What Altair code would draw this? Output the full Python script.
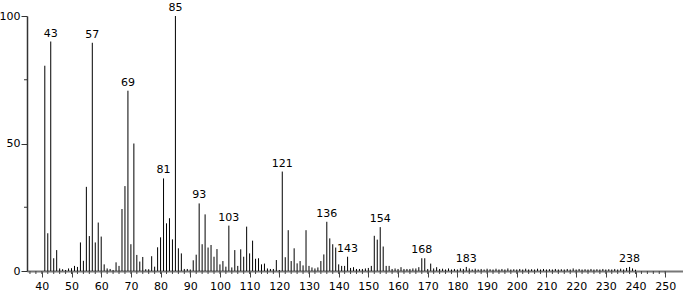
import altair as alt
import pandas as pd

# m/z values 41..240
masses = list(range(41, 241))
intensities = [
    80.5, 14.8, 90.0, 5.0, 8.2, 1.0, 0.7, 0.4, 1.0, 1.1,          # 41-50
    2.0, 1.6, 11.2, 4.0, 33.0, 13.7, 89.5, 11.2, 19.0, 13.5,      # 51-60
    2.6, 1.0, 0.8, 0.4, 3.4, 2.0, 24.3, 33.3, 70.7, 10.5,         # 61-70
    50.0, 6.3, 3.7, 5.5, 0.7, 0.7, 5.8, 1.7, 9.3, 13.2,           # 71-80
    36.3, 18.7, 20.7, 12.4, 100.0, 8.9, 6.9, 0.8, 0.8, 0.6,       # 81-90
    4.2, 6.4, 26.5, 10.5, 22.2, 9.2, 10.2, 5.6, 8.6, 2.6,         # 91-100
    3.9, 1.7, 17.8, 1.4, 8.2, 2.0, 8.5, 5.6, 17.4, 6.9,           # 101-110
    11.9, 4.8, 5.0, 2.6, 2.9, 1.0, 0.8, 0.8, 4.3, 0.4,            # 111-120
    39.0, 5.4, 16.0, 3.9, 8.9, 3.0, 3.9, 2.2, 16.0, 2.0,          # 121-130
    1.4, 1.0, 1.4, 3.9, 6.5, 19.3, 12.8, 10.5, 9.2, 2.6,          # 131-140
    2.0, 2.0, 5.6, 1.2, 1.5, 0.8, 0.8, 0.8, 1.0, 1.2,             # 141-150
    2.0, 13.8, 12.3, 17.2, 9.6, 2.0, 2.0, 0.8, 1.0, 0.8,          # 151-160
    1.5, 0.8, 0.8, 0.8, 1.0, 1.0, 1.5, 5.0, 5.0, 0.8,             # 161-170
    2.9, 1.0, 1.5, 0.8, 0.9, 0.6, 1.0, 0.6, 0.8, 0.6,             # 171-180
    1.0, 0.8, 1.6, 1.0, 0.6, 0.9, 0.6, 0.8, 0.6, 0.9,             # 181-190
    0.7, 0.6, 0.9, 0.6, 0.8, 0.6, 1.0, 0.6, 0.7, 0.6,             # 191-200
    0.8, 0.6, 0.9, 0.6, 0.7, 0.6, 0.9, 0.6, 0.8, 0.6,             # 201-210
    0.7, 0.6, 0.8, 0.6, 0.7, 0.6, 0.8, 0.6, 1.0, 0.6,             # 211-220
    0.8, 0.6, 0.7, 0.6, 0.8, 0.6, 0.7, 0.6, 0.8, 0.6,             # 221-230
    0.7, 0.6, 0.8, 0.6, 0.9, 0.6, 1.2, 1.6, 1.0, 0.5,             # 231-240
]
label_masses = [43, 57, 69, 81, 85, 93, 103, 121, 136, 143, 154, 168, 183, 238]
x_major = list(range(40, 251, 10))
x_minor = list(range(36, 251, 2))
y_major = [0, 50, 100]
y_minor = [25, 75]

FONT = "DejaVu Sans"

df = pd.DataFrame({"mz": masses, "inten": intensities})
lab = df[df["mz"].isin(label_masses)].copy()
lab["txt"] = lab["mz"].astype(str)

xscale = alt.Scale(domain=[35, 256], nice=False, zero=False)
yscale = alt.Scale(domain=[0, 100], nice=False)

x_axis = alt.Axis(values=x_major, title=None, grid=False,
                  tickSize=6, tickColor="#444", tickWidth=1,
                  domainColor="#777", domainWidth=2,
                  labelFont=FONT, labelFontSize=11, labelColor="#000",
                  labelPadding=3, labelFlush=False, labelOverlap=False)
y_axis = alt.Axis(values=y_major, title=None, grid=False,
                  tickSize=6, tickColor="#333", tickWidth=1,
                  domainColor="#333", domainWidth=1.5,
                  labelFont=FONT, labelFontSize=11, labelColor="#000",
                  labelPadding=1, labelFlush=False, labelOverlap=False)

bars = alt.Chart(df).mark_rule(color="#000000", strokeWidth=1).encode(
    x=alt.X("mz:Q", scale=xscale, axis=x_axis),
    y=alt.Y("inten:Q", scale=yscale, axis=y_axis),
    y2=alt.datum(0),
)

texts = alt.Chart(lab).mark_text(
    font=FONT, fontSize=11, baseline="bottom", align="center", dy=-3, color="#000"
).encode(
    x=alt.X("mz:Q", scale=xscale, axis=x_axis),
    y=alt.Y("inten:Q", scale=yscale, axis=y_axis),
    text="txt:N",
)

xminor = alt.Chart(pd.DataFrame({"t": x_minor})).mark_rule(
    color="#444", strokeWidth=1
).encode(
    x=alt.X("t:Q", scale=xscale, axis=x_axis),
    y=alt.value(255),
    y2=alt.value(258),
)

yminor = alt.Chart(pd.DataFrame({"v": y_minor})).mark_rule(
    color="#333", strokeWidth=1
).encode(
    y=alt.Y("v:Q", scale=yscale, axis=y_axis),
    x=alt.value(-3),
    x2=alt.value(0),
)

chart = alt.layer(bars, xminor, yminor, texts).properties(
    width=656,
    height=255,
    padding={"left": 27, "top": 16, "right": 0, "bottom": 22},
    autosize="none",
    background="white",
).configure_view(stroke=None).configure_axis(labelOverlap=False)

chart.save("out.html", embed_options={"renderer": "svg", "actions": False})
